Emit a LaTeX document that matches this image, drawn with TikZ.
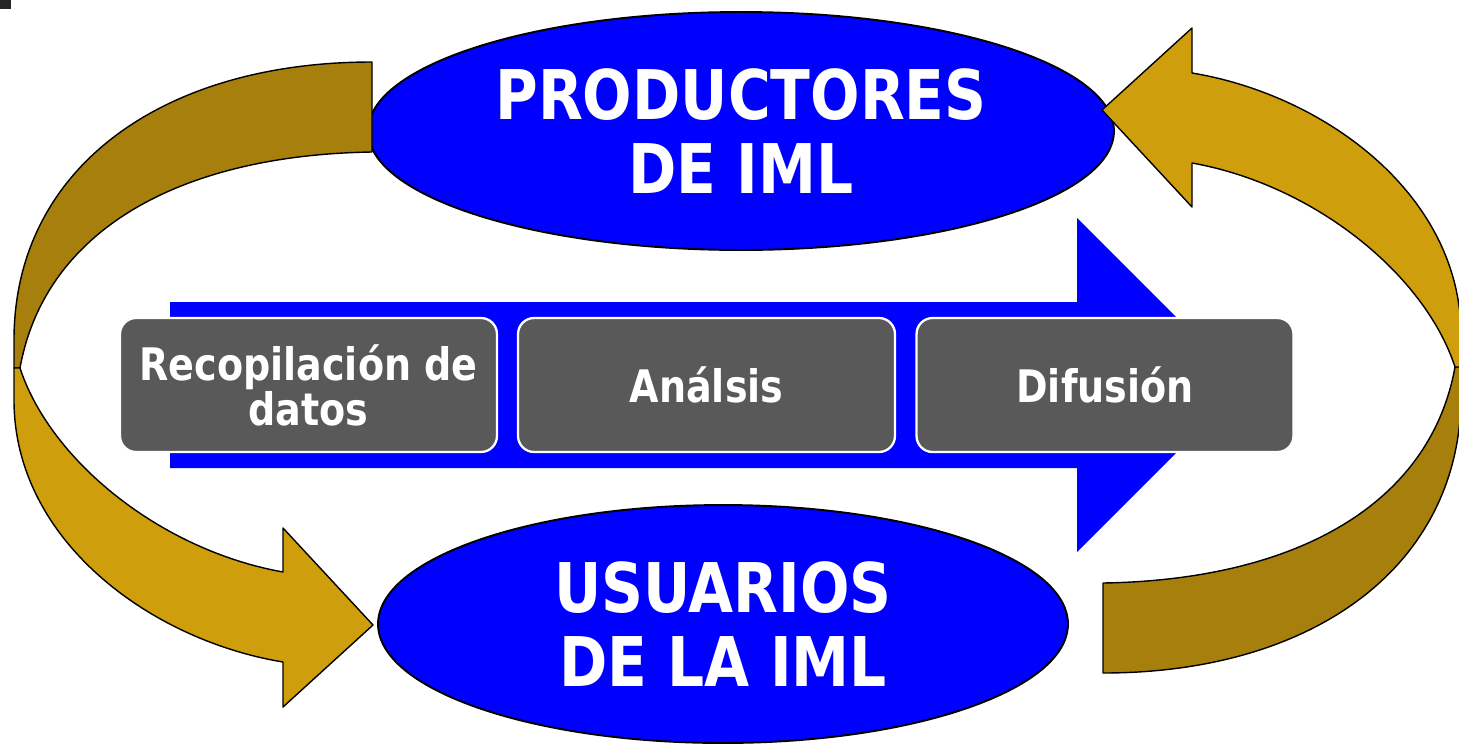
\documentclass[tikz,border=0pt]{standalone}
\usepackage{fontspec}
\newfontfamily\tahoma{DejaVu Sans}[FakeStretch=0.85]
\usetikzlibrary{shapes.geometric}
\definecolor{oro}{RGB}{207,158,12}
\definecolor{oroscuro}{RGB}{166,127,13}
\definecolor{gris}{RGB}{89,89,89}
\tikzstyle{elipse}=[ellipse,draw=black,line width=1.1pt,fill=blue,text=white,align=center,inner sep=0pt,
    font=\tahoma\bfseries\fontsize{39}{42}\selectfont]
\tikzstyle{caja}=[draw=white,line width=1.3pt,fill=gris,rounded corners=0.32cm,text=white,align=center,
    minimum width=7.54cm,minimum height=2.68cm,font=\tahoma\bfseries\fontsize{25.5}{25.6}\selectfont]
\tikzstyle{banda}=[draw=black,line width=0.8pt,line join=round]

\newcommand{\flechacurva}{%
    \draw[banda,fill=oroscuro] (372,62) .. controls (160,62) and (14,170) .. (14,340) -- (14,368)
        -- (20,368) .. controls (45,230) and (180,155) .. (372,152) -- cycle;
    \draw[banda,fill=oro] (14,368) -- (14,400) .. controls (14,540) and (150,640) .. (283,662)
        -- (283,707) -- (373,625) -- (283,528) -- (283,572)
        .. controls (160,550) and (50,460) .. (20,368) -- cycle;
}

\begin{document}
\begin{tikzpicture}[x=0.02cm,y=-0.02cm]
    \useasboundingbox (0,0) rectangle (1459,744);
    \fill[black!85] (0,0) rectangle (11,9);
    \fill[blue] (170,302) -- (1077,302) -- (1077,218) -- (1244,385) -- (1077,552)
        -- (1077,468) -- (170,468) -- cycle;
    \node[caja] (recopilacion) at (308.5,385) {Recopilación de\\datos};
    \node[caja] (analisis) at (706.5,385) {Análsis};
    \node[caja] (difusion) at (1105,385) {Difusión};
    \node[elipse,minimum width=14.92cm,minimum height=4.76cm] (productores) at (741,131) {PRODUCTORES\\DE IML};
    \node[elipse,minimum width=13.8cm,minimum height=4.76cm] (usuarios) at (723,624) {USUARIOS\\DE LA IML};
    \flechacurva
    \begin{scope}[rotate around={180:(737.5,367.5)}]
        \flechacurva
    \end{scope}
\end{tikzpicture}
\end{document}
